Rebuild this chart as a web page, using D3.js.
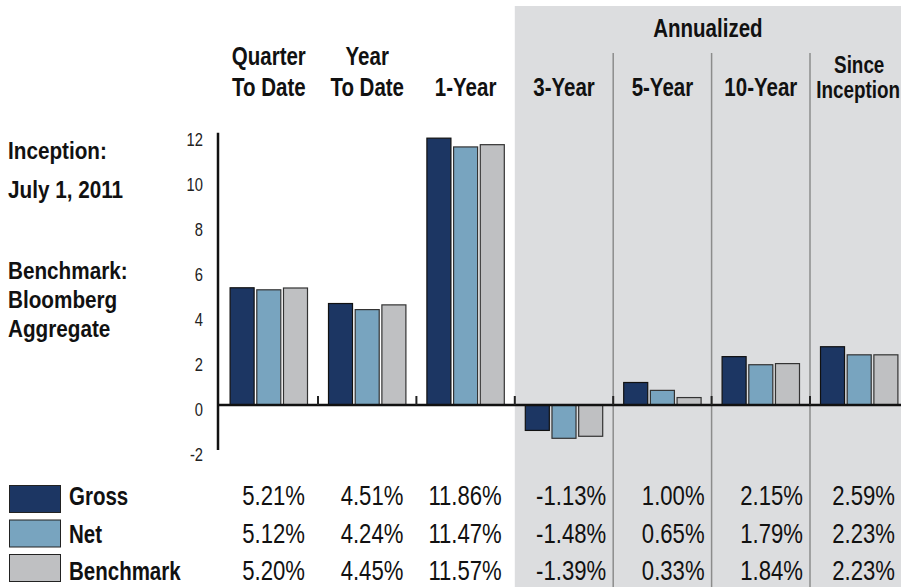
<!DOCTYPE html>
<html>
<head>
<meta charset="utf-8">
<script src="https://cdn.jsdelivr.net/npm/d3@7"></script>
<style>
  body { margin: 0; background: #fff; }
  svg { display: block; }
</style>
</head>
<body>
<script>
// values
var categories = ["Quarter To Date", "Year To Date", "1-Year", "3-Year", "5-Year", "10-Year", "Since Inception"];
var headerLines = [["Quarter", "To Date"], ["Year", "To Date"], ["1-Year"], ["3-Year"], ["5-Year"], ["10-Year"], ["Since", "Inception"]];
var series = ["Gross", "Net", "Benchmark"];
var gross = [5.21, 4.51, 11.86, -1.13, 1.00, 2.15, 2.59];
var net = [5.12, 4.24, 11.47, -1.48, 0.65, 1.79, 2.23];
var benchmark = [5.20, 4.45, 11.57, -1.39, 0.33, 1.84, 2.23];
var yTicks = [-2, 0, 2, 4, 6, 8, 10, 12];
var annualizedFrom = "3-Year";
var infoTop = ["Inception:", "July 1, 2011"];
var infoBottom = ["Benchmark:", "Bloomberg", "Aggregate"];

var W = 901, H = 587;
var colors = {"Gross": "#1c3663", "Net": "#78a4bf", "Benchmark": "#bfc0c2"};
var values = {"Gross": gross, "Net": net, "Benchmark": benchmark};
var SANS = "Liberation Sans, Arial, sans-serif";
var NARROW = 0.82; // no narrow font installed, squeeze the normal one

var svg = d3.select("body").append("svg").attr("width", W).attr("height", H);

// text squeezed horizontally, to get the condensed look
function label(str, px, py, size, weight, anchor, sx) {
    return svg.append("text")
        .attr("transform", "translate(" + px + "," + py + ") scale(" + sx + ",1)")
        .attr("text-anchor", anchor)
        .attr("font-family", SANS)
        .attr("font-weight", weight)
        .attr("font-size", size)
        .attr("fill", "#111")
        .text(str);
}

var x = d3.scaleBand().domain(categories).range([219.6, 908.4]).padding(0);
var step = x.step();
var xs = d3.scaleBand().domain(series).range([10.5, step - 10.5]).paddingInner(0.1);
var y = d3.scaleLinear().domain([-2, 12]).range([450, 135]);

// grey "annualized" panel
var panelX = x(annualizedFrom);
svg.append("rect")
    .attr("x", panelX).attr("y", 6)
    .attr("width", W - panelX).attr("height", H - 6)
    .attr("fill", "#dcdddf");

label("Annualized", (panelX + W) / 2, 37, 25, "bold", "middle", NARROW);

// separators between annualized columns
var annIdx = categories.indexOf(annualizedFrom);
categories.slice(annIdx + 1).forEach(function (c) {
    svg.append("line")
        .attr("x1", x(c)).attr("x2", x(c))
        .attr("y1", 53).attr("y2", H)
        .attr("stroke", "#8c8c8c").attr("stroke-width", 1.5);
});

// column headers
headerLines.forEach(function (lines, i) {
    var cx = x(categories[i]) + step / 2;
    var last = i === categories.length - 1;
    var gap = last ? 25 : 31;
    var base = last ? 98 : 96;
    lines.forEach(function (t, j) {
        var ty = base - (lines.length - 1 - j) * gap;
        var el = label(t, cx, ty, last ? 23 : 25, "bold", "middle", NARROW);
        var w = el.node().getComputedTextLength() * NARROW;
        if (cx + w / 2 > W - 1) {
            el.attr("transform", "translate(" + (W - 1 - w / 2) + "," + ty + ") scale(" + NARROW + ",1)");
        }
    });
});

// left info text
infoTop.forEach(function (t, i) {
    label(t, 8, 159 + i * 39, 23, "bold", "start", 0.9);
});
infoBottom.forEach(function (t, i) {
    label(t, 8, 279 + i * 29, 23, "bold", "start", 0.9);
});

// y axis
var yAxis = d3.axisLeft(y).tickValues(yTicks).tickSize(0).tickPadding(0)
    .tickFormat(function (d) { return String(d); });
var gy = svg.append("g").attr("transform", "translate(218,0)").call(yAxis);
gy.select(".domain").remove();
gy.selectAll("text")
    .attr("font-family", SANS)
    .attr("font-size", 18).attr("fill", "#222")
    .attr("x", -15 / NARROW).attr("dy", "0.62em").attr("y", -1)
    .attr("transform", "scale(" + NARROW + ",1)");

svg.append("line")
    .attr("x1", 218).attr("x2", 218)
    .attr("y1", y(12.1)).attr("y2", y(-2))
    .attr("stroke", "#111").attr("stroke-width", 2.5);

// bars
var groups = svg.selectAll("g.grp").data(categories).enter().append("g")
    .attr("class", "grp")
    .attr("transform", function (c) { return "translate(" + x(c) + ",0)"; });

groups.selectAll("rect").data(function (c, i) {
    return series.map(function (s) { return {s: s, v: values[s][i]}; });
}).enter().append("rect")
    .attr("x", function (d) { return xs(d.s); })
    .attr("width", xs.bandwidth())
    .attr("y", function (d) { return y(Math.max(0, d.v)); })
    .attr("height", function (d) { return Math.abs(y(d.v) - y(0)); })
    .attr("fill", function (d) { return colors[d.s]; })
    .attr("stroke", function (d) { return d.s === "Gross" ? "#111" : "#333"; })
    .attr("stroke-width", 1.2);

// zero line and group ticks
svg.append("line")
    .attr("x1", 218).attr("x2", W)
    .attr("y1", y(0)).attr("y2", y(0))
    .attr("stroke", "#111").attr("stroke-width", 2.5);

categories.slice(1).forEach(function (c) {
    svg.append("line")
        .attr("x1", x(c)).attr("x2", x(c))
        .attr("y1", y(0) - 9).attr("y2", y(0))
        .attr("stroke", "#222").attr("stroke-width", 2);
});

// legend + table
series.forEach(function (s, r) {
    var base = 505 + r * 37.5;
    svg.append("rect")
        .attr("x", 9.5).attr("y", 485.5 + r * 34.5)
        .attr("width", 51).attr("height", 27)
        .attr("fill", colors[s]).attr("stroke", "#222").attr("stroke-width", 1);
    label(s, 69, base, 25, "bold", "start", NARROW);
    values[s].forEach(function (v, i) {
        var right = x(categories[i]) + step - (i < annIdx ? 13 : 7);
        label(v.toFixed(2) + "%", Math.min(right, 895), base, 27, "normal", "end", NARROW);
    });
});
</script>
</body>
</html>
